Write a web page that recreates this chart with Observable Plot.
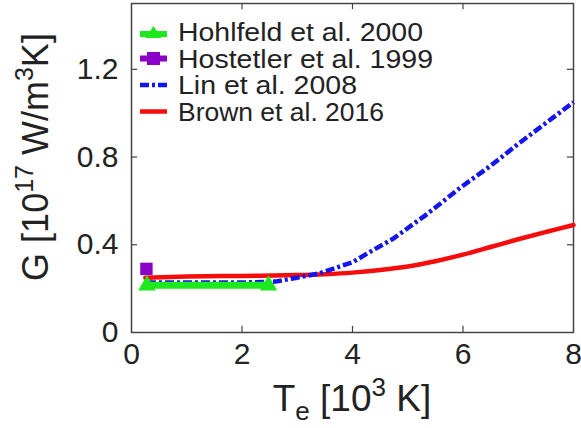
<!DOCTYPE html>
<html>
<head>
<meta charset="utf-8">
<script src="https://cdn.jsdelivr.net/npm/d3@7"></script>
<script src="https://cdn.jsdelivr.net/npm/@observablehq/plot@0.6"></script>
<style>
  html, body { margin: 0; padding: 0; background: #fff; }
  svg { display: block; }
</style>
</head>
<body>
<div id="chart"></div>
<script>
// ---- data ----
const hohlfeldT = [0.28, 2.48];
const hohlfeldG = [0.215, 0.215];

const hostetlerT = [0.27];
const hostetlerG = [0.29];

const linT = [0.28, 1.0, 2.0, 2.6, 3.0, 3.4, 4.0, 4.3, 4.75, 5.35, 5.95, 6.5, 7.0, 7.5, 8.0];
const linG = [0.228, 0.228, 0.228, 0.232, 0.25, 0.27, 0.32, 0.365, 0.43, 0.54, 0.66, 0.76, 0.86, 0.955, 1.05];

const brownT = [0.25, 1.0, 2.0, 3.0, 3.5, 4.0, 4.5, 5.0, 5.5, 6.0, 6.5, 7.0, 7.5, 8.0];
const brownG = [0.25, 0.255, 0.258, 0.262, 0.266, 0.273, 0.285, 0.301, 0.325, 0.355, 0.39, 0.425, 0.458, 0.49];

const xTicks = [0, 2, 4, 6, 8];
const yTicks = [0, 0.4, 0.8, 1.2];

const legendLabels = ["Hohlfeld et al. 2000", "Hostetler et al. 1999", "Lin et al. 2008", "Brown et al. 2016"];
const legendWidths = [245, 255, 179, 206];

const colGreen = "#1ee81e", colPurple = "#8a00c8", colBlue = "#1414f0", colRed = "#f50d0d";

const toRows = (xs, ys) => xs.map((x, i) => ({x, y: ys[i]}));
const hohlfeld = toRows(hohlfeldT, hohlfeldG);
const hostetler = toRows(hostetlerT, hostetlerG);
const lin = toRows(linT, linG);
const brown = toRows(brownT, brownG);

const X0 = 0, X1 = 8, Y0 = 0, Y1 = 1.5;
const tickLenX = 0.11, tickLenY = 0.028;

const plot = Plot.plot({
  width: 581,
  height: 428,
  marginLeft: 131,
  marginRight: 8,
  marginTop: 3,
  marginBottom: 96,
  style: {fontFamily: "Liberation Sans, Arial, sans-serif", fontSize: "30px", color: "#222", background: "#fff"},
  x: {domain: [X0, X1]},
  y: {domain: [Y0, Y1]},
  marks: [
    Plot.axisX({ticks: xTicks, tickSize: 0, tickPadding: 10, fontSize: 30, label: null, tickFormat: d => String(d)}),
    Plot.axisY({ticks: yTicks, tickSize: 0, tickPadding: 13, fontSize: 30, label: null, tickFormat: d => d === 0 ? "0" : d.toFixed(1)}),
    // inward ticks on all four sides
    Plot.ruleX(xTicks.slice(1, -1), {x: d => d, y1: Y0, y2: Y0 + tickLenY, stroke: "#444", strokeWidth: 1.2}),
    Plot.ruleX(xTicks.slice(1, -1), {x: d => d, y1: Y1 - tickLenY, y2: Y1, stroke: "#444", strokeWidth: 1.2}),
    Plot.ruleY(yTicks.slice(1), {y: d => d, x1: X0, x2: X0 + tickLenX, stroke: "#444", strokeWidth: 1.2}),
    Plot.ruleY(yTicks.slice(1), {y: d => d, x1: X1 - tickLenX, x2: X1, stroke: "#444", strokeWidth: 1.2}),
    Plot.frame({stroke: "#444", strokeWidth: 1.5}),
    Plot.line(brown, {x: "x", y: "y", stroke: colRed, strokeWidth: 4.5, curve: "catmull-rom"}),
    Plot.line(lin, {x: "x", y: "y", stroke: colBlue, strokeWidth: 4.5, strokeDasharray: "9,3,3,3", strokeLinecap: "butt", strokeLinejoin: "miter"}),
    Plot.line(hohlfeld, {x: "x", y: "y", stroke: colGreen, strokeWidth: 7, strokeLinecap: "butt"}),
    Plot.dot(hohlfeld, {x: "x", y: "y", symbol: "triangle", r: 6.5, fill: colGreen, stroke: "none"}),
    Plot.dot(hostetler, {x: "x", y: "y", symbol: "square", r: 7, fill: colPurple, stroke: "none"})
  ]
});

document.getElementById("chart").appendChild(plot);

// ---- titles and legend (real text) ----
const svg = d3.select(plot);
const font = "Liberation Sans, Arial, sans-serif";

// x title
const xt = svg.append("text")
  .attr("x", 352).attr("y", 411)
  .attr("text-anchor", "middle")
  .attr("font-family", font).attr("font-size", 37).attr("fill", "#222");
xt.append("tspan").text("T");
xt.append("tspan").attr("font-size", 26).attr("dy", 9).text("e");
xt.append("tspan").attr("dy", -9).text(" [10");
xt.append("tspan").attr("font-size", 26).attr("dy", -15).text("3");
xt.append("tspan").attr("dy", 15).text(" K]");

// y title
const yt = svg.append("text")
  .attr("transform", "translate(48,157) rotate(-90)")
  .attr("text-anchor", "middle")
  .attr("font-family", font).attr("font-size", 36).attr("fill", "#222");
yt.append("tspan").text("G [10");
yt.append("tspan").attr("font-size", 25).attr("dy", -15).text("17");
yt.append("tspan").attr("dy", 15).text(" W/m");
yt.append("tspan").attr("font-size", 25).attr("dy", -15).text("3");
yt.append("tspan").attr("dy", 15).text("K]");

// legend
const lg = svg.append("g").attr("font-family", font).attr("font-size", 25).attr("fill", "#222").attr("text-anchor", "start");
const rowY = [32, 58.5, 85, 111.5];
const sx0 = 140, sx1 = 167, sxm = 153.5;
legendLabels.forEach((label, i) => {
  const y = rowY[i];
  lg.append("text").attr("x", 178).attr("y", y).attr("dy", "0.36em").attr("text-anchor", "start")
    .attr("textLength", legendWidths[i]).attr("lengthAdjust", "spacingAndGlyphs").text(label);
});
// Hohlfeld symbol
lg.append("line").attr("x1", sx0).attr("x2", sx1).attr("y1", rowY[0] + 2).attr("y2", rowY[0] + 2)
  .attr("stroke", colGreen).attr("stroke-width", 6);
lg.append("path").attr("d", `M${sxm},${rowY[0] - 6} L${sxm + 8},${rowY[0] + 6} L${sxm - 8},${rowY[0] + 6} Z`).attr("fill", colGreen);
// Hostetler symbol
lg.append("line").attr("x1", sx0).attr("x2", sx1).attr("y1", rowY[1]).attr("y2", rowY[1])
  .attr("stroke", colPurple).attr("stroke-width", 6);
lg.append("rect").attr("x", sxm - 6.5).attr("y", rowY[1] - 6.5).attr("width", 13).attr("height", 13).attr("fill", colPurple);
// Lin symbol
lg.append("line").attr("x1", sx0).attr("x2", sx1).attr("y1", rowY[2]).attr("y2", rowY[2])
  .attr("stroke", colBlue).attr("stroke-width", 4.5).attr("stroke-dasharray", "9,3,3,3");
// Brown symbol
lg.append("line").attr("x1", sx0).attr("x2", sx1).attr("y1", rowY[3]).attr("y2", rowY[3])
  .attr("stroke", colRed).attr("stroke-width", 4.5);
</script>
</body>
</html>
